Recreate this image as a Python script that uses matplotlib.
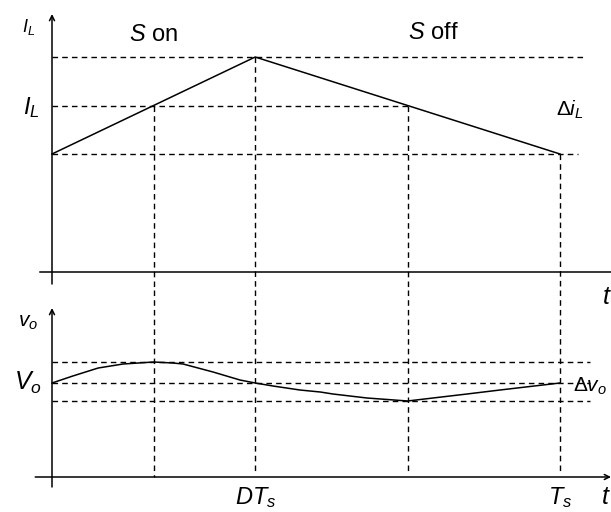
import matplotlib
matplotlib.use("Agg")
import matplotlib.pyplot as plt

plt.rcParams['font.family'] = ['Liberation Sans', 'DejaVu Sans']
plt.rcParams['mathtext.fontset'] = 'custom'
plt.rcParams['mathtext.rm'] = 'Liberation Sans'
plt.rcParams['mathtext.it'] = 'Liberation Sans:italic'
plt.rcParams['mathtext.bf'] = 'Liberation Sans:bold'

# ---- data (time normalised to Ts = 1) ----
t_marks = [0.0, 0.2, 0.4, 0.7, 1.0]          # 0, DTs/2, DTs, mid off, Ts
iL_t = [0.0, 0.4, 1.0]
iL_v = [1.18, 2.15, 1.18]
IL_avg = 1.66
vo_t = [0.0, 0.041, 0.091, 0.140, 0.2, 0.238, 0.258, 0.317, 0.370, 0.4,
        0.435, 0.488, 0.528, 0.553, 0.620, 0.7, 0.75, 0.817, 0.882, 1.0]
vo_v = [0.94, 1.01, 1.09, 1.13, 1.15, 1.14, 1.13, 1.05, 0.97, 0.94,
        0.91, 0.87, 0.85, 0.83, 0.79, 0.76, 0.79, 0.83, 0.87, 0.94]
Vo_avg = 0.94
Vo_max = 1.15
Vo_min = 0.76

W, H = 611, 512
fig = plt.figure(figsize=(W / 100, H / 100), dpi=100)
top = fig.add_axes([0, (H - 290) / H, 1, 290 / H])
bot = fig.add_axes([0, 0, 1, 222 / H])
xl = (-52 / 508, 559 / 508)
top.set_xlim(*xl); top.set_ylim(-0.18, 2.72)
bot.set_xlim(*xl); bot.set_ylim(-0.35, 1.87)
for a in (top, bot):
    a.axis('off')

k = 'black'
dash = dict(color=k, lw=1.0, ls=(0, (4, 3)))

# ---- top panel: inductor current ----
top.plot([-0.024, xl[1]], [0, 0], color=k, lw=1.1)
top.annotate('', xy=(0, 2.58), xytext=(0, -0.12),
             arrowprops=dict(arrowstyle='->', lw=1.1, color=k,
                             mutation_scale=9, shrinkA=0, shrinkB=0))
top.plot(iL_t, iL_v, color=k, lw=1.1)
top.plot([0, 1.045], [max(iL_v)] * 2, **dash)
top.plot([0, t_marks[3]], [IL_avg] * 2, **dash)
top.plot([0, 1.035], [min(iL_v)] * 2, **dash)
# vertical markers in top panel
top.plot([t_marks[1]] * 2, [IL_avg, -0.18], **dash)
top.plot([t_marks[2]] * 2, [max(iL_v), -0.18], **dash)
top.plot([t_marks[3]] * 2, [IL_avg, -0.18], **dash)
top.plot([t_marks[4]] * 2, [min(iL_v), -0.18], **dash)

top.text(-0.047, 2.45, r'$I_L$', fontsize=13, ha='center', va='center')
top.text(-0.040, 1.64, r'$\mathbf{\mathit{I}}_{\mathit{L}}$', fontsize=17,
         ha='center', va='center')
top.text(0.2, 2.37, r'$S$ on', fontsize=17, ha='center', va='center')
top.text(0.75, 2.39, r'$S$ off', fontsize=17, ha='center', va='center')
top.text(1.02, 1.62, r'$\Delta i_L$', fontsize=15, ha='center', va='center')

# ---- bottom panel: output voltage ----
bot.annotate('', xy=(xl[1], 0), xytext=(-0.033, 0),
             arrowprops=dict(arrowstyle='->', lw=1.1, color=k,
                             mutation_scale=9, shrinkA=0, shrinkB=0))
bot.annotate('', xy=(0, 1.69), xytext=(0, -0.10),
             arrowprops=dict(arrowstyle='->', lw=1.1, color=k,
                             mutation_scale=9, shrinkA=0, shrinkB=0))
bot.plot(vo_t, vo_v, color=k, lw=1.1)
for v in (Vo_max, Vo_avg, Vo_min):
    bot.plot([0, 1.059], [v, v], **dash)
bot.plot([t_marks[1]] * 2, [1.87, 0], **dash)
bot.plot([t_marks[2]] * 2, [1.87, 0.03], **dash)
bot.plot([t_marks[3]] * 2, [1.87, 0.03], **dash)
bot.plot([t_marks[4]] * 2, [1.87, 0.03], **dash)

bot.text(-0.047, 1.55, r'$v_o$', fontsize=15, ha='center', va='center')
bot.text(-0.047, 0.94, r'$V_o$', fontsize=18, ha='center', va='center')
bot.text(1.06, 0.91, r'$\Delta v_o$', fontsize=15, ha='center', va='center')
bot.text(0.4, -0.275, r'$DT_s$', fontsize=17, ha='center', va='baseline')
bot.text(1.0, -0.275, r'$T_s$', fontsize=17, ha='center', va='baseline')
bot.text(1.09, -0.275, r'$t$', fontsize=18, ha='center', va='baseline')
bot.text(1.093, 1.80, r'$t$', fontsize=18, ha='center', va='center',
         clip_on=False)

fig.savefig('out.png', dpi=100, facecolor='white')
